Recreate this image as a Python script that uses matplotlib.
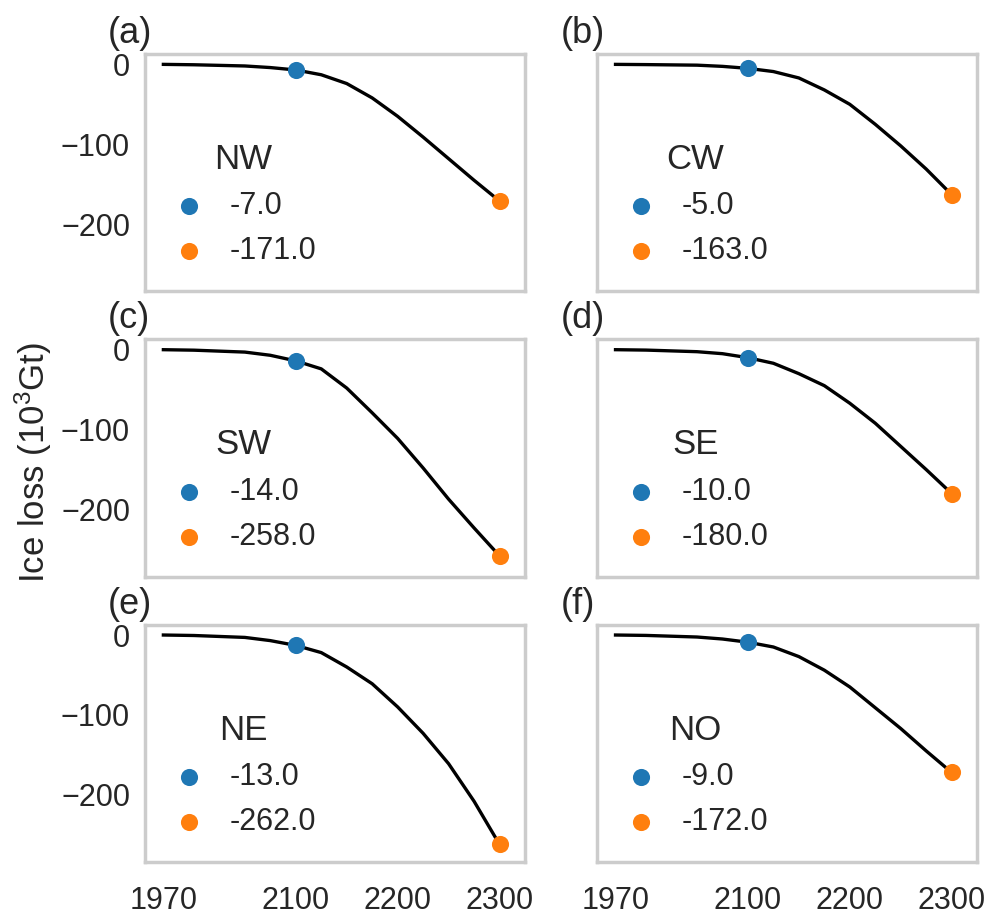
import matplotlib
matplotlib.use("Agg")
import matplotlib.pyplot as plt

# ---- data ----
regions = ["NW", "CW", "SW", "SE", "NE", "NO"]
panel_tags = ["(a)", "(b)", "(c)", "(d)", "(e)", "(f)"]
years = [1970, 2000, 2050, 2075, 2100, 2125, 2150, 2175, 2200, 2225, 2250, 2275, 2300]

loss_nw = [0, -0.5, -2, -4, -7, -13, -24, -42, -65, -91, -118, -145, -171]
loss_cw = [0, -0.3, -1, -2.5, -5, -9, -17, -32, -50, -75, -102, -131, -163]
loss_sw = [0, -0.6, -3, -7, -14, -24, -48, -79, -111, -148, -187, -223, -258]
loss_se = [0, -0.5, -2.5, -5, -10, -17, -30, -45, -67, -92, -121, -150, -180]
loss_ne = [0, -0.6, -3, -7, -13, -22, -40, -61, -90, -123, -161, -208, -262]
loss_no = [0, -0.5, -2.5, -5, -9, -15, -27, -44, -65, -91, -117, -145, -172]
curves = [loss_nw, loss_cw, loss_sw, loss_se, loss_ne, loss_no]

year_2100 = 2100
year_2300 = 2300
loss_2100 = [-7.0, -5.0, -14.0, -10.0, -13.0, -9.0]
loss_2300 = [-171.0, -163.0, -258.0, -180.0, -262.0, -172.0]

xticks = [1970, 2100, 2200, 2300]
yticks = [0, -100, -200]

plt.rcParams["font.family"] = ["Liberation Sans", "DejaVu Sans"]
plt.rcParams["mathtext.default"] = "regular"

fig, axes = plt.subplots(3, 2, figsize=(4.95, 4.59), sharex=True, sharey=True)
fig.subplots_adjust(left=0.1465, right=0.987, top=0.9412, bottom=0.061,
                    wspace=0.19, hspace=0.202)

for i, ax in enumerate(axes.flat):
    ax.plot(years, curves[i], color="black", lw=1.2, zorder=2)
    ax.scatter([year_2100], [loss_2100[i]], s=38, color="#1f77b4",
               label=f"{loss_2100[i]:.1f}", zorder=3, linewidths=0)
    ax.scatter([year_2300], [loss_2300[i]], s=38, color="#ff7f0e",
               label=f"{loss_2300[i]:.1f}", zorder=3, linewidths=0)

    leg = ax.legend(title=regions[i], frameon=False, fontsize=11,
                    title_fontsize=12.5, loc="center left",
                    bbox_to_anchor=(-0.006, 0.365), handlelength=1.2,
                    handletextpad=0.75, labelspacing=0.5)
    leg.get_title().set_color("#262626")
    for t in leg.get_texts():
        t.set_color("#262626")

    ax.text(-0.097, 1.013, panel_tags[i], transform=ax.transAxes,
            fontsize=13, color="#262626", ha="left", va="bottom")

    for sp in ax.spines.values():
        sp.set_color("#cccccc")
        sp.set_linewidth(1.25)
    ax.grid(False)
    ax.tick_params(axis="both", length=0, labelsize=11, labelcolor="#262626")
    ax.tick_params(axis="x", pad=8.5)
    ax.tick_params(axis="y", pad=5.4)

axes[0, 0].set_xlim(1952, 2325)
axes[0, 0].set_ylim(-284, 13)
axes[0, 0].set_xticks(xticks)
axes[0, 0].set_yticks(yticks)

axes[1, 0].set_ylabel("Ice loss (10$^{3}$Gt)", fontsize=12.5, color="#262626")
axes[1, 0].yaxis.set_label_coords(-0.24, 0.48)

plt.savefig("out.png", dpi=200)
plt.close()
